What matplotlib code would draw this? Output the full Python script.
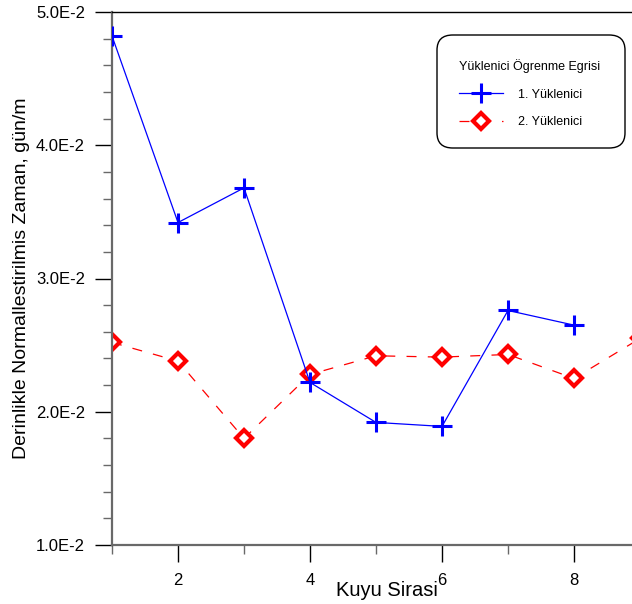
import matplotlib
matplotlib.use("Agg")
import matplotlib.pyplot as plt
from matplotlib.patches import FancyBboxPatch
from matplotlib.ticker import FixedLocator, MultipleLocator, FuncFormatter

# well order
wells_1 = [1, 2, 3, 4, 5, 6, 7, 8]
wells_2 = [1, 2, 3, 4, 5, 6, 7, 8, 9]
# depth-normalized time, day/m
contractor_1 = [0.0482, 0.0342, 0.0368, 0.0222, 0.0192, 0.0189, 0.0276, 0.0265]
contractor_2 = [0.0252, 0.0238, 0.0180, 0.0228, 0.0242, 0.0241, 0.0243, 0.0225, 0.0255]


def sci_label(v, pos):
    if v <= 0:
        return ""
    return "%.1fE-2" % (v * 100)


plt.rcParams['font.family'] = ['Liberation Sans', 'DejaVu Sans']

W, H = 632, 604
fig = plt.figure(figsize=(W / 100, H / 100), dpi=100)
ax = fig.add_axes([112 / W, 59 / H, 1 - 112 / W, 533 / H])

ax.plot(wells_1, contractor_1, color='blue', lw=0.9, marker='+', ms=14, mew=2.2,
        label='1. Yüklenici', zorder=3)
ax.plot(wells_2, contractor_2, color='red', lw=0.9, ls=(0, (8, 9)), marker='D', ms=8.5,
        mfc='white', mec='red', mew=3, label='2. Yüklenici', zorder=2)

ax.set_xlim(1, 1 + 520 / 66)
ax.set_ylim(0.01, 0.05)

ax.xaxis.set_major_locator(FixedLocator([2, 4, 6, 8]))
ax.xaxis.set_minor_locator(FixedLocator([1, 3, 5, 7]))
ax.yaxis.set_major_locator(MultipleLocator(0.01))
ax.yaxis.set_minor_locator(MultipleLocator(0.002))
ax.yaxis.set_major_formatter(FuncFormatter(sci_label))

ax.tick_params(axis='both', which='major', direction='out', length=12.5, width=1,
               labelsize=12, color='black')
ax.tick_params(axis='y', which='major', pad=7)
ax.tick_params(axis='x', which='major', pad=8)
ax.tick_params(axis='both', which='minor', direction='out', length=6.5, width=1,
               color='dimgray')

for s in ['left', 'bottom']:
    ax.spines[s].set_color('dimgray')
    ax.spines[s].set_linewidth(1.6)
ax.spines['right'].set_visible(False)
ax.spines['top'].set_linewidth(1)
ax.spines['top'].set_zorder(5)

ax.set_ylabel('Derinlikle Normallestirilmis Zaman, gün/m', fontsize=14)
ax.yaxis.set_label_coords(-0.158, 0.5)
ax.set_xlabel('Kuyu Sirasi', fontsize=14.5)
ax.xaxis.set_label_coords(0.529, -0.068)

# rounded legend frame
frame = FancyBboxPatch((437 / W, 1 - 148 / H), 188 / W, 113 / H,
                       boxstyle='round,pad=0,rounding_size=0.025',
                       transform=fig.transFigure, facecolor='white',
                       edgecolor='black', lw=1, zorder=4, clip_on=False)
ax.add_patch(frame)

leg = ax.legend(title='Yüklenici Ögrenme Egrisi', loc='upper left',
                bbox_to_anchor=(459 / W, 1 - 59 / H), bbox_transform=fig.transFigure,
                fontsize=9, title_fontsize=9, frameon=False, handlelength=3.5,
                borderpad=0, borderaxespad=0, labelspacing=1.25, handletextpad=1.2)
leg._legend_box.align = "left"
leg.set_zorder(6)

fig.savefig('out.png', dpi=100)
